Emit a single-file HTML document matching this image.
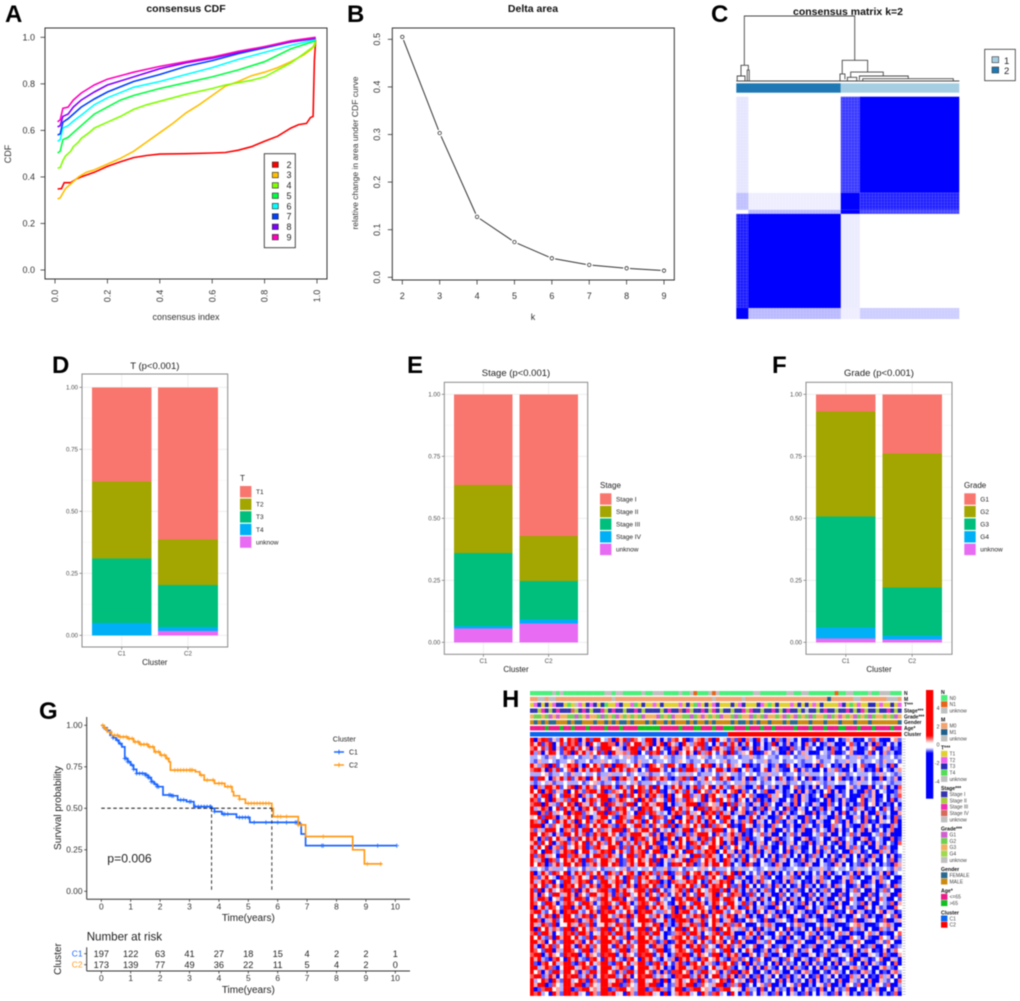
<!DOCTYPE html>
<html lang="en">
<head>
<meta charset="utf-8">
<title>Consensus clustering figure</title>
<style>
html,body{margin:0;padding:0;background:#fff;width:1020px;height:1001px;overflow:hidden}
svg{display:block;filter:blur(0.45px)}
text{font-family:"Liberation Sans",Arial,sans-serif}
.let{font-size:24px;font-weight:700;fill:#000}
.rt{font-size:10.5px;font-weight:700;fill:#111;text-anchor:middle}
.rl{font-size:9px;fill:#333;text-anchor:middle}
.gt{font-size:9.5px;fill:#222;text-anchor:middle}
.gx{font-size:8px;fill:#222;text-anchor:middle}
.sv{font-size:10px;fill:#222;text-anchor:middle}
</style>
</head>
<body>
<svg xmlns="http://www.w3.org/2000/svg" width="1020" height="1001" viewBox="0 0 1020 1001">
<defs>
<pattern id="cm-texture" width="3" height="3" patternUnits="userSpaceOnUse"><rect x="2" width=".7" height="3" fill="#fff" opacity=".16"/><rect y="1" width="3" height=".6" fill="#fff" opacity=".14"/></pattern>
<linearGradient id="scale-gradient" x1="0" y1="0" x2="0" y2="1"><stop offset="0" stop-color="#f00"/><stop offset=".42" stop-color="#f00"/><stop offset=".49" stop-color="#fff"/><stop offset=".53" stop-color="#fff"/><stop offset=".58" stop-color="#00f"/><stop offset="1" stop-color="#00f"/></linearGradient>
</defs>

<text class="let" x="5" y="22">A</text>
<text class="let" x="347" y="22">B</text>
<text class="let" x="711" y="22">C</text>
<text class="let" x="52" y="373">D</text>
<text class="let" x="407" y="373">E</text>
<text class="let" x="772" y="373">F</text>
<text class="let" x="39" y="719">G</text>
<text class="let" x="502" y="707">H</text>

<!-- Panel A -->
<g id="panel-a">
<text class="rt" x="186" y="12">consensus CDF</text>
<text class="rl" x="186" y="320">consensus index</text>
<text class="rl" transform="translate(11,154) rotate(-90)">CDF</text>
<rect x="45" y="28" width="282" height="251" fill="none" stroke="#333" stroke-width="1"/>
</g>

<!-- Panel B -->
<g id="panel-b">
<text class="rt" x="533" y="12">Delta area</text>
<text class="rl" x="533" y="320">k</text>
<text class="rl" style="font-size:8.5px" transform="translate(358,153) rotate(-90)">relative change in area under CDF curve</text>
<rect x="392.3" y="28" width="282" height="252" fill="none" stroke="#333" stroke-width="1"/>
</g>

<!-- Panel C -->
<g id="panel-c">
<text class="rt" x="848" y="15">consensus matrix k=2</text>
<rect x="984.7" y="49.3" width="30.6" height="31.4" fill="#fff" stroke="#333" stroke-width=".8"/>
<rect x="992" y="56.7" width="6.7" height="6" fill="#a6cee3" stroke="#333" stroke-width=".6"/>
<rect x="992" y="67" width="6.7" height="6" fill="#1f78b4" stroke="#333" stroke-width=".6"/>
<text x="1004" y="64" style="font-size:9.5px;fill:#222">1</text>
<text x="1004" y="74" style="font-size:9.5px;fill:#222">2</text>
</g>

<!-- Panels D E F -->
<g id="panel-d">
<text class="gt" x="154.8" y="369">T (p&lt;0.001)</text>
<text class="gx" x="154.8" y="665">Cluster</text>
<text x="240" y="481" style="font-size:8px;fill:#222">T</text>
</g>
<g id="panel-e">
<text class="gt" x="516" y="376">Stage (p&lt;0.001)</text>
<text class="gx" x="516" y="672">Cluster</text>
<text x="600" y="488" style="font-size:8px;fill:#222">Stage</text>
</g>
<g id="panel-f">
<text class="gt" x="879" y="376">Grade (p&lt;0.001)</text>
<text class="gx" x="879" y="672">Cluster</text>
<text x="964" y="488" style="font-size:8px;fill:#222">Grade</text>
</g>

<!-- Panel G -->
<g id="panel-g">
<text class="sv" transform="translate(61,808) rotate(-90)">Survival probability</text>
<text class="sv" x="248.3" y="921">Time(years)</text>
<text x="107.3" y="862.7" style="font-size:12.2px;fill:#222">p=0.006</text>
<text x="332.7" y="741.5" style="font-size:7.3px;fill:#222">Cluster</text>
<text x="86.7" y="940.7" style="font-size:11.6px;fill:#222">Number at risk</text>
<text class="sv" transform="translate(61,959) rotate(-90)">Cluster</text>
<text class="sv" x="248.3" y="993">Time(years)</text>
</g>

<!-- Panel H -->
<g id="panel-h">
<rect x="926" y="690" width="7.3" height="108.7" fill="url(#scale-gradient)"/>
</g>

<script>
/* ---------- Panel A data: consensus CDF ---------- */
const cdfK = ['2','3','4','5','6','7','8','9'];
const cdfColors = ['#ff0000','#ffbf00','#80ff00','#00ff40','#00ffff','#0040ff','#8000ff','#ff00bf'];
const cdfTicks = [0,0.2,0.4,0.6,0.8,1];
const cdfIndex2 = [.01,.025,.035,.06,.08,.1,.15,.2,.25,.3,.35,.4,.5,.6,.65,.7,.75,.8,.85,.9,.93,.96,.975,.985,.99,.995];
const cdfValue2 = [.348,.35,.375,.375,.39,.40,.42,.445,.465,.483,.492,.498,.5,.503,.505,.515,.53,.553,.575,.61,.625,.63,.655,.66,.9,.99];
const cdfIndex3 = [.01,.02,.04,.06,.09,.12,.15,.2,.25,.3,.35,.4,.45,.5,.55,.6,.65,.7,.75,.8,.85,.9,.95,.98,.99,.995];
const cdfValue3 = [.305,.31,.35,.37,.40,.42,.43,.455,.48,.51,.55,.59,.63,.675,.71,.75,.79,.81,.835,.85,.87,.895,.925,.95,.97,.99];
const cdfIndex4 = [.01,.02,.03,.04,.06,.07,.09,.1,.13,.15,.2,.25,.3,.35,.4,.5,.6,.65,.7,.75,.8,.85,.9,.95,.98,.99,.995];
const cdfValue4 = [.438,.44,.47,.49,.51,.53,.55,.565,.59,.61,.635,.66,.69,.71,.725,.755,.78,.795,.805,.815,.83,.86,.89,.93,.955,.96,.985];
const cdfIndex5 = [.01,.02,.03,.05,.07,.1,.15,.2,.25,.3,.35,.4,.5,.6,.7,.8,.9,.995];
const cdfValue5 = [.503,.51,.56,.57,.59,.62,.67,.7,.73,.75,.765,.78,.805,.83,.86,.895,.95,.985];
const cdfIndexHigh = [.01,.02,.03,.05,.07,.1,.15,.2,.3,.4,.5,.6,.7,.8,.9,.995];
const cdfValue6 = [.553,.56,.61,.62,.64,.665,.71,.74,.785,.81,.84,.87,.905,.935,.965,.99];
const cdfValue7 = [.58,.585,.635,.65,.67,.70,.735,.765,.81,.84,.875,.90,.93,.955,.98,.995];
const cdfValue8 = [.615,.62,.66,.67,.70,.73,.765,.795,.83,.865,.89,.91,.935,.96,.98,.997];
const cdfValue9 = [.637,.645,.695,.70,.73,.76,.795,.82,.85,.875,.895,.915,.94,.96,.985,1];

/* ---------- Panel B data: delta area ---------- */
const deltaK = [2,3,4,5,6,7,8,9];
const deltaValues = [.505,.303,.127,.074,.040,.026,.019,.014];
const deltaTicks = [0,.1,.2,.3,.4,.5];

/* ---------- Panel C data: consensus matrix ---------- */
const cmColSizes = [12,92,19,99];
const cmRowSizes = [96,17,4,94,11];
const cmValues = [
  [.1,0,.78,1],
  [.25,.07,1,.88],
  [0,.28,1,.75],
  [.9,1,.08,0],
  [1,.28,.07,.2]
];
const cmClusterSizes = [104,118];
/* each merge: left leaf, right leaf, merge height, left child height, right child height */
const dendroMerges = [
  [.036,.531,1,.241,.318],
  [.021,.054,.241,.077,.169],
  [.004,.039,.077,0,0],
  [.049,.058,.169,0,0],
  [.475,.589,.318,.108,.138],
  [.465,.487,.108,0,.026],
  [.513,.659,.138,.056,.077],
  [.498,.540,.056,0,0],
  [.552,.771,.077,.015,.036],
  [.567,.973,.036,0,0]
];

/* ---------- Panels D/E/F data ---------- */
const barClusters = ['C1','C2'];
const barTicks = [0,.25,.5,.75,1];
const barTickLabels = ['0.00','0.25','0.50','0.75','1.00'];
const barColors = ['#f8766d','#a3a500','#00bf7d','#00b0f6','#e76bf3'];
const tLevels = ['T1','T2','T3','T4','unknow'];
const tValuesC1 = [.38,.31,.26,.05,0];
const tValuesC2 = [.613,.184,.169,.017,.017];
const stageLevels = ['Stage I','Stage II','Stage III','Stage IV','unknow'];
const stageValuesC1 = [.365,.275,.295,.01,.055];
const stageValuesC2 = [.572,.18,.156,.017,.075];
const gradeLevels = ['G1','G2','G3','G4','unknow'];
const gradeValuesC1 = [.07,.423,.447,.045,.015];
const gradeValuesC2 = [.238,.542,.192,.016,.012];

/* ---------- Panel G data: survival ---------- */
const survTicksX = [0,1,2,3,4,5,6,7,8,9,10];
const survTicksY = [0,.25,.5,.75,1];
const survTickLabels = ['0.00','0.25','0.50','0.75','1.00'];
const survTimeC1 = [0,.1,.2,.3,.4,.5,.6,.7,.8,.9,1,1.1,1.2,1.5,1.6,1.7,1.8,1.9,2.1,2.4,2.6,2.9,3.15,3.75,3.85,4.1,4.6,5.05,6.75,6.8,6.95,10.05];
const survProbC1 = [1,.985,.97,.94,.925,.91,.89,.87,.80,.78,.76,.735,.71,.70,.685,.66,.645,.63,.58,.575,.55,.54,.51,.50,.48,.465,.445,.415,.405,.345,.275,.275];
const survTimeC2 = [0,.1,.2,.35,.6,.9,1.1,1.3,1.6,1.8,2.0,2.2,2.3,2.35,3.2,3.35,3.5,3.85,4.2,4.45,4.5,4.7,4.9,5.8,5.85,6.7,6.95,8.55,8.95,9.55];
const survProbC2 = [1,.98,.96,.94,.93,.92,.90,.885,.87,.84,.82,.80,.78,.73,.72,.70,.67,.65,.63,.60,.575,.555,.53,.50,.45,.40,.33,.25,.165,.165];
const censorC1 = [.1,.2,.4,.55,.65,.8,.85,.9,.95,1.05,1.1,1.2,1.3,1.4,1.5,1.55,1.6,1.65,1.7,1.75,1.85,1.9,1.95,2.3,2.35,2.4,2.45,2.7,2.8,3,3.05,3.2,3.3,3.4,3.5,3.6,3.7,3.72,3.85,4.15,4.2,4.3,4.7,4.8,4.9,5,5.2,5.6,6,6.3,6.6,6.65,6.7,7.5,7.55,9.4,10.05];
const censorC2 = [.05,.15,.3,.45,.55,.65,.75,.85,.95,1.05,1.15,1.25,1.35,1.45,1.55,1.65,1.75,1.85,1.95,2.05,2.15,2.25,2.5,2.6,2.7,2.8,2.9,3,3.05,3.1,3.4,3.6,3.8,4,4.1,4.3,4.4,4.7,5,5.1,5.2,5.3,5.4,5.5,5.6,5.7,5.8,6,6.1,6.3,6.7,6.8,7.55,9.05,9.5];
const medianTimes = [3.75,5.8];
const medianLevel = 0.5;
const riskC1 = [197,122,63,41,27,18,15,4,2,2,1];
const riskC2 = [173,139,77,49,36,22,11,5,4,2,0];

/* ---------- Panel H data: heatmap (digit 0..8 = low..high expression) ---------- */
const heatRows = [
"7058614283756048176325084716532870415267380145726083415270631842507316425013827402513640215374201563",
"6471580362857140632785504163872560481753084256713041826503741250381426035174250364120573142607315240",
"5836270417582635041876342058716403852167045382610574218360251740356120734163502417305264013572046132",
"8250476315607482536170844526703185624071538406257314608235471026534017253640125437013562104725063412",
"3343253432334233523432334353233423345323342334532433233423353234332433423353423324334233532334233423",
"3253343233452334233534323343253342334323543233423343523343324335233423343233452334233533423343253342",
"7425806134758206364175086523741085362874105623857041362540713254036127514302617450326140573206341725",
"5684072613580472658130748265403176852403716852041367205814630257146320571634205164730251460327153046",
"3334523343253343342335333423433523343234335342333423543323434233533423342353334233435234333423534323",
"8167305482614750836241705842630175486203571604283517460325071436251740362517034261570324163502714360",
"3234352334333423453233423343523334233435233432353433234335233423343352334233453233433423533423343233",
"6052784613570826413758206417385260741385620471536048217563104725361402573140625374102563401725360417",
"7380561427038415672801543726085174620538417206351482035716240537126403517263041572603514207361542036",
"4726805318746052138674250816374058261705386142705634281057463012746503172640351720463512074361250437",
"8513607425186304752680147532608471352806417532804617352064152703164025371640235170426301572460351724",
"5670842163750842613708524176035824671503248670153426081735206417352064172530641273506241370562413052",
"7248503617482056371480265731408562370184625307816452037146250371642507316425037164025317460325174063",
"6805172436058714326807514623086175234068517243065817240356127403516274035612704351627043516207435126",
"4371865024736518024673108524761308562471035826147305682401375264013752640173526401735206417352604173",
"8526031748250637148520367418250736142805637148205631740526371640527316405273164025731604527130645271",
"7680415326748015362784105632871405368270145362807154360217450361274503612745036127450631274506312740",
"5142786305417268035142687053146827053416287053142687035417206351472063514720635417260351472603514720",
"6837520416837250164783520146873250416873205146873052147360215473602514736021547360251473602154736021",
"8405163742051637482056314720856137402851637420581637245062713450267134502671345026713540267135402713",
"4718360257148360527418360252714836025714830652714836026053172460531724605317246053172640531726405317",
"7263804516237480156237840516273804512673840156237840513742051637420516374205163742501637425016374205",
"5830672147580367214758036217458036721458306721475803624160352714603527146035271460352174603521746035",
"8157243068157420368517420368157240368517243068157420361526037415260374152603741526307415263074152603",
"6428075137462807513764280157364280715364280751364820752037146250371462503714625037146205371462053714",
"7395014826739501482673950148276395014287639501482763950431762054317620543176205431762504317625043176",
"3343253334233425334233343523343342335233423343534233342353343234335323343342335323433423533423343253",
"8026417538026471538206417358206471538026417358206471536170425361704253617042536170452361704523617045",
"7514832065714832605714382065174832065714380265714832067325106473251064732510647325016473250164732501",
"6248570317624857031762485073162485703176248573016248570450316274503162745031627450136274501362745013",
"5738126408573812640587381264085738126048573812604857381261740523617405236174052361745023617450236174",
"8160472356816047235681064723568160742356816047325681604730526147305261473052614735026147350261473502",
"7405318624740531862474051862374053186247405318624705318660273514602735146027351460273154602731546027",
"6287503417628750341762875034176287053417628750314762875415036274150362741503627410536274105362741053",
"8531764025853176402585316740258531764205853176402853176437261504372615043726150437261054372610543726",
"7046285317704628531770462853177046285371704628531704628512750463127504631275046312750634127506341275",
"5872136407587213640758721364075872136470587213640587213664031752640317526403175264031572640315726403",
"8314650728831465072883146507288314650278831465072831465053714026537140265371402653714206537142065371",
"6750248137675024813767502481376750248317675024813750248120465317204653172046531720465137204651372046",
"7428516033742851603374285160337428516303742851603742851674102536741025367410253674102356741023567410",
"8063725418806372541880637254188063725148806372541806372536250714362507143625071436250174362501743625",
"5716840326571684032657168403265716840236571684032571684001574263015742630157426301574623015746230157",
"7382150647738215064773821506477382150467738215064738215042631705426317054263170542631075426310754263",
"6845037216684503721668450372166845037126684503721845037275102643751026437510264375102463751024637510",
"8207461538820746153882074615388207461358820746153207461560347125603471256034712560347215603472156034",
"7531680426753168042675316804267531680246753168042531680414752036147520361475203614752306147523061475",
"5860274317586027431758602743175860274137586027431860274731065247310652473106524731065427310654273106",
"8472105630847210563084721056308472105360847210563472105626403751264037512640375126403571264035712640",
"6105738246610573824661057382466105738426610573824105738250716342507163425071634250716432507164325071",
"7624851036762485103676248510367624851306762485103624851043152607431526074315260743152067431520674315",
"8350416727835041672783504167278350416277835041672350416716742053167420531674205316742503167425031674",
"5781264037578126403757812640375781264307578126403781264062503714625037146250371462503174625031746250",
"7236508416723650841672365084167236508146723650841236508435071624350716243507162435071264350712643507",
"6478015326647801532664780153266478015236647801532478015371240563712405637124056371240653712406537124",
"8015763428801576342880157634288015763248801576342015763450634172506341725063417250634712506347125063",
"7562308416756230841675623084167562308146756230841562308413725064137250641372506413725604137256041372"
];
/* estimated mean expression shift per block of five samples, left to right */
const heatColumnShift = [1,1.1,1.2,1.4,1.4,1.2,1.4,-.4,1.2,1.2,1.1,-.2,-.8,-1,-1.2,-1.2,-1.2,-1,-1.2,-1];
/* strength of that shift per gene row; muted bands at the top carry none */
const heatRowStrength = [.7,.7,.7,.7,0,0,.8,.8,0,.8,0,.9,.9,.9,.9,.9,.9,.9,.9,.9,1,1,1,1,1,1,1,1,1,1,0,1,1,1,1,1,1,1,1,1,1,1,1,1,1,1,1,1,1,1,1,1,1,1,1,1,1,1,1,1];
const geneLabelCount = 96;
const scaleLabels = ['4','2','0','-2','-4'];
const scaleValues = [4,2,0,-2,-4];

/* annotation tracks: digit indexes each track's level */
const trackNames = ['N','M','T***','Stage***','Grade***','Gender','Age*'];
const trackN = "0000002020000000000022022000002002220000200210002120000000002200000002200220000000100220000200222000";
const trackM = "0022022000000000000000200000000000000000000000000200000002000000000000000000000010000002200000002220";
const trackT = "0120201220304102120230012001302001020000102031020120002012000210302000102020102000012030100220100201";
const trackS = "0012010200031020100210200100201000010200302100201201001002120010020102001040010200100201021001002010";
const trackG = "2112102022110120221012102121210222012102211012021210221012201210221201201210122101202120121012212102";
const trackSex = "1010100111010011101101010010111010110101110101101011110100101011011101001110111011101110111011111110";
const trackAge = "0000100010010001000010001000011111100000100011000100111000100010010000010001000100011000100010000100";
const trackColorsN = ['#4bef7b','#e8641a','#c0c0c0'];
const trackColorsM = ['#f4a26f','#1f5f8b','#c0c0c0'];
const trackColorsT = ['#e0d030','#f060f0','#2a2ab8','#55dd55','#c0c0c0'];
const trackColorsS = ['#3535b0','#a8cc40','#f030b0','#d86a5a','#c0c0c0'];
const trackColorsG = ['#d060d0','#70d050','#f4b060','#a0d850','#c0c0c0'];
const trackColorsSex = ['#2a6a90','#cc8a10'];
const trackColorsAge = ['#ee1a88','#10c020'];
const clusterCounts = [197,173];
const clusterColors = ['#0a66f0','#ff0000'];
const legendGroups = [
  ['N',['N0','N1','unknow'],trackColorsN],
  ['M',['M0','M1','unknow'],trackColorsM],
  ['T***',['T1','T2','T3','T4','unknow'],trackColorsT],
  ['Stage***',['Stage I','Stage II','Stage III','Stage IV','unknow'],trackColorsS],
  ['Grade***',['G1','G2','G3','G4','unknow'],trackColorsG],
  ['Gender',['FEMALE','MALE'],trackColorsSex],
  ['Age*',['<=65','>65'],trackColorsAge],
  ['Cluster',['C1','C2'],clusterColors]
];

/* ---------- helpers ---------- */
const NS = 'http://www.w3.org/2000/svg';
function add(parent, tag, attrs, text) {
  const e = document.createElementNS(NS, tag);
  for (const k in attrs) e.setAttribute(k, attrs[k]);
  if (text !== undefined) e.textContent = text;
  parent.appendChild(e);
  return e;
}
function linear(d0, d1, r0, r1) { return v => r0 + (v - d0) * (r1 - r0) / (d1 - d0); }
function addText(parent, x, cy, str, size, anchor, fill, rot, name) {
  const a = { x: x, y: cy + size * 0.35, 'font-size': size, 'text-anchor': anchor, fill: fill };
  if (rot) { a.transform = 'rotate(' + rot + ' ' + x + ' ' + cy + ')'; }
  const t = add(parent, 'text', a, str);
  
  
  return t;
}
function addLine(parent, x1, y1, x2, y2, stroke, w, name, dash) {
  const a = { x1: x1, y1: y1, x2: x2, y2: y2, stroke: stroke, 'stroke-width': w };
  if (dash) a['stroke-dasharray'] = dash;
  const l = add(parent, 'line', a);
  
  
  return l;
}
function addRect(parent, x, y, w, h, fill, name) {
  const r = add(parent, 'rect', { x: x, y: y, width: w, height: h, fill: fill });
  
  
  return r;
}

/* ---------- Panel A ---------- */
(function () {
  const g = document.getElementById('panel-a');
  const x = linear(0, 1, 55, 317), y = linear(0, 1, 270, 37.3);
  cdfTicks.forEach(t => {
    addLine(g, x(t), 279, x(t), 283.5, '#333', .8, 'cdf-x-tick');
    addLine(g, 45, y(t), 40.5, y(t), '#333', .8, 'cdf-y-tick');
    addText(g, x(t), 296, t.toFixed(1), 9, 'middle', '#333', -90, 'cdf-x-tick-label');
    addText(g, 35, y(t), t.toFixed(1), 9, 'end', '#333', 0, 'cdf-y-tick-label');
  });
  const idx = [cdfIndex2, cdfIndex3, cdfIndex4, cdfIndex5, cdfIndexHigh, cdfIndexHigh, cdfIndexHigh, cdfIndexHigh];
  const val = [cdfValue2, cdfValue3, cdfValue4, cdfValue5, cdfValue6, cdfValue7, cdfValue8, cdfValue9];
  val.forEach((vs, s) => {
    const pts = vs.map((v, i) => x(idx[s][i]).toFixed(1) + ',' + y(v).toFixed(1)).join(' ');
    const p = add(g, 'polyline', { points: pts, fill: 'none', stroke: cdfColors[s], 'stroke-width': 1.6 });
    
    
  });
  const box = add(g, 'rect', { x: 264.3, y: 153.7, width: 31, height: 94, fill: '#fff', stroke: '#333', 'stroke-width': .9 });
  
  
  cdfK.forEach((k, i) => {
    const cy = 164.7 + i * 10.35;
    const sw = add(g, 'rect', { x: 272.3, y: cy - 2.7, width: 6, height: 5.4, fill: cdfColors[i], stroke: '#222', 'stroke-width': .6 });
    
    
    addText(g, 286.5, cy, k, 9, 'start', '#222', 0, 'cdf-legend-label');
  });
})();

/* ---------- Panel B ---------- */
(function () {
  const g = document.getElementById('panel-b');
  const x = linear(2, 9, 402.3, 664), y = linear(0, .5, 277.3, 39.3);
  deltaK.forEach(k => {
    addLine(g, x(k), 280, x(k), 284.5, '#333', .8, 'delta-x-tick');
    addText(g, x(k), 295.7, String(k), 9, 'middle', '#333', 0, 'delta-x-tick-label');
  });
  deltaTicks.forEach(t => {
    addLine(g, 392.3, y(t), 387.8, y(t), '#333', .8, 'delta-y-tick');
    addText(g, 376.7, y(t), t.toFixed(1), 9, 'middle', '#333', -90, 'delta-y-tick-label');
  });
  deltaValues.forEach((v, i) => {
    if (i < deltaValues.length - 1) {
      const x0 = x(deltaK[i]), y0 = y(v), x1 = x(deltaK[i + 1]), y1 = y(deltaValues[i + 1]);
      const d = Math.hypot(x1 - x0, y1 - y0), ux = (x1 - x0) / d, uy = (y1 - y0) / d;
      addLine(g, x0 + ux * 3.4, y0 + uy * 3.4, x1 - ux * 3.4, y1 - uy * 3.4, '#333', 1, 'delta-line-segment');
    }
    const c = add(g, 'circle', { cx: x(deltaK[i]), cy: y(v), r: 1.7, fill: 'none', stroke: '#333', 'stroke-width': .8 });
    
    
  });
})();

/* ---------- Panel C ---------- */
(function () {
  const g = document.getElementById('panel-c');
  const L = 736.3, R = 959.3;
  const dx = linear(0, 1, L, R), dy = linear(0, 1, 81, 16);
  addLine(g, L, 81, R, 81, '#444', 1, 'dendrogram-baseline');
  dendroMerges.forEach(m => {
    const pts = dx(m[0]) + ',' + dy(m[3]) + ' ' + dx(m[0]) + ',' + dy(m[2]) + ' ' + dx(m[1]) + ',' + dy(m[2]) + ' ' + dx(m[1]) + ',' + dy(m[4]);
    const p = add(g, 'polyline', { points: pts, fill: 'none', stroke: '#444', 'stroke-width': .9 });
    
    
  });
  const total = cmClusterSizes[0] + cmClusterSizes[1];
  const split = L + (R - L) * cmClusterSizes[0] / total;
  addRect(g, L, 83.3, split - L, 9.4, '#1f78b4', 'cluster-bar-2');
  addRect(g, split, 83.3, R - split, 9.4, '#a6cee3', 'cluster-bar-1');
  const colTotal = cmColSizes.reduce((a, b) => a + b, 0);
  const rowTotal = cmRowSizes.reduce((a, b) => a + b, 0);
  const mx = linear(0, colTotal, L, R), my = linear(0, rowTotal, 96.7, 319);
  let ry = 0;
  cmValues.forEach((row, r) => {
    let cx = 0;
    row.forEach((v, c) => {
      const x0 = mx(cx), w = mx(cx + cmColSizes[c]) - x0, y0 = my(ry), h = my(ry + cmRowSizes[r]) - y0;
      const cell = add(g, 'rect', { x: x0, y: y0, width: w, height: h, fill: '#0000ff', 'fill-opacity': v });
      
      
      if (v > 0.02 && v < 0.95) {
        const tex = add(g, 'rect', { x: x0, y: y0, width: w, height: h, fill: 'url(#cm-texture)' });
        
        
      }
      cx += cmColSizes[c];
    });
    ry += cmRowSizes[r];
  });
})();

/* ---------- Panels D/E/F ---------- */
function stackedBars(id, levels, c1, c2, box, key) {
  const g = document.getElementById(id);
  const y = linear(0, 1, box.y0, box.y1);
  const unit = (box.r - box.l) / 2.2;
  const x = i => box.l + (0.6 + i) * unit;
  addRect(g, box.l, box.t, box.r - box.l, box.b - box.t, '#fff', key + '-panel-background');
  barTicks.forEach((t, i) => {
    addLine(g, box.l, y(t), box.r, y(t), '#ebebeb', .8, key + '-major-gridline');
    if (i < barTicks.length - 1) addLine(g, box.l, y(t + .125), box.r, y(t + .125), '#f2f2f2', .5, key + '-minor-gridline');
    addLine(g, box.l - 2.5, y(t), box.l, y(t), '#555', .6, key + '-y-tick');
    addText(g, box.l - 4, y(t), barTickLabels[i], 6.2, 'end', '#4d4d4d', 0, key + '-y-tick-label');
  });
  [c1, c2].forEach((vals, i) => {
    addLine(g, x(i), box.t, x(i), box.b, '#ebebeb', .8, key + '-vertical-gridline');
    addLine(g, x(i), box.b, x(i), box.b + 2.5, '#555', .6, key + '-x-tick');
    addText(g, x(i), box.b + 6.5, barClusters[i], 6.2, 'middle', '#4d4d4d', 0, key + '-x-tick-label');
    let top = 1;
    vals.forEach((v, s) => {
      if (v > 0) {
        const r = addRect(g, x(i) - .45 * unit, y(top), .9 * unit, y(top - v) - y(top), barColors[s], key + '-bar-segment');
        r.setAttribute('shape-rendering', 'crispEdges');
      }
      top -= v;
    });
  });
  const fr = add(g, 'rect', { x: box.l, y: box.t, width: box.r - box.l, height: box.b - box.t, fill: 'none', stroke: '#8a8a8a', 'stroke-width': 1 });
  
  
  levels.forEach((lv, i) => {
    const yy = box.legY + i * 12.6;
    addRect(g, box.legX, yy, 11.4, 11.4, barColors[i], key + '-legend-swatch');
    addText(g, box.legX + 16, yy + 5.7, lv, 6.5, 'start', '#222', 0, key + '-legend-label');
  });
  g.querySelectorAll('text[class]').forEach(t => g.appendChild(t));
}
stackedBars('panel-d', tLevels, tValuesC1, tValuesC2, { l: 82, r: 227.7, t: 374, b: 647, y0: 635.3, y1: 387.3, legX: 240, legY: 486 }, 't');
stackedBars('panel-e', stageLevels, stageValuesC1, stageValuesC2, { l: 444.3, r: 587.7, t: 382.3, b: 654.3, y0: 642.3, y1: 394.3, legX: 600, legY: 493.3 }, 'stage');
stackedBars('panel-f', gradeLevels, gradeValuesC1, gradeValuesC2, { l: 806, r: 952, t: 382.3, b: 654.3, y0: 642.3, y1: 394.3, legX: 964.3, legY: 493.3 }, 'grade');

/* ---------- Panel G ---------- */
(function () {
  const g = document.getElementById('panel-g');
  const x = linear(0, 10, 101.3, 395.3), y = linear(0, 1, 891.3, 725.3);
  const AX = 86.7, AY = 899.3, blue = '#1a66ff', orange = '#ff9a1a';
  addLine(g, AX, 717, AX, AY, '#333', 1, 'survival-y-axis-line');
  addLine(g, AX, AY, 410, AY, '#333', 1, 'survival-x-axis-line');
  survTicksY.forEach((t, i) => {
    addLine(g, AX - 2.5, y(t), AX, y(t), '#333', .8, 'survival-y-tick');
    addText(g, 82.5, y(t), survTickLabels[i], 8.4, 'end', '#333', 0, 'survival-y-tick-label');
  });
  survTicksX.forEach(t => {
    addLine(g, x(t), AY, x(t), AY + 2.5, '#333', .8, 'survival-x-tick');
    addText(g, x(t), 906.7, String(t), 8.4, 'middle', '#333', 0, 'survival-x-tick-label');
  });
  function stepAt(ts, ps, t) { let s = ps[0]; ts.forEach((v, i) => { if (v <= t) s = ps[i]; }); return s; }
  function drawCurve(ts, ps, cs, col, key) {
    let d = 'M' + x(ts[0]) + ' ' + y(ps[0]);
    for (let i = 1; i < ts.length; i++) d += 'H' + x(ts[i]).toFixed(1) + 'V' + y(ps[i]).toFixed(1);
    const p = add(g, 'path', { d: d, fill: 'none', stroke: col, 'stroke-width': 1.7 });
    
    
    cs.forEach(t => {
      const xx = x(t), yy = y(stepAt(ts, ps, t));
      const m = add(g, 'path', { d: 'M' + (xx - 2.2) + ' ' + yy + 'H' + (xx + 2.2) + 'M' + xx + ' ' + (yy - 2.2) + 'V' + (yy + 2.2), stroke: col, 'stroke-width': 1, opacity: .75, fill: 'none' });
      
      
    });
  }
  drawCurve(survTimeC1, survProbC1, censorC1, blue, 'c1');
  drawCurve(survTimeC2, survProbC2, censorC2, orange, 'c2');
  addLine(g, x(0), y(medianLevel), x(medianTimes[1]), y(medianLevel), '#111', 1, 'median-horizontal-line', '3.5,2.5');
  medianTimes.forEach(t => addLine(g, x(t), y(medianLevel), x(t), y(0), '#333', 1, 'median-vertical-line', '3.5,2.5'));
  [['C1', blue, 752], ['C2', orange, 765]].forEach(e => {
    addLine(g, 334, e[2], 344, e[2], e[1], 1.5, 'survival-legend-line');
    addLine(g, 339, e[2] - 2.2, 339, e[2] + 2.2, e[1], 1, 'survival-legend-mark');
    addText(g, 349, e[2], e[0], 7, 'start', '#222', 0, 'survival-legend-label');
  });
  /* risk table */
  addLine(g, AX, 947.3, AX, 971, '#333', 1, 'risk-y-axis-line');
  addLine(g, AX, 971, 410, 971, '#333', 1, 'risk-x-axis-line');
  [['C1', blue, 953.7, riskC1], ['C2', orange, 964.7, riskC2]].forEach(r => {
    addLine(g, AX - 2.5, r[2], AX, r[2], '#333', .8, 'risk-y-tick');
    addText(g, 82.5, r[2], r[0], 8.4, 'end', r[1], 0, 'risk-row-label');
    r[3].forEach((v, i) => addText(g, x(survTicksX[i]), r[2], String(v), 9.2, 'middle', '#222', 0, 'risk-count'));
  });
  survTicksX.forEach(t => {
    addLine(g, x(t), 971, x(t), 973.5, '#333', .8, 'risk-x-tick');
    addText(g, x(t), 978.3, String(t), 8.4, 'middle', '#333', 0, 'risk-x-tick-label');
  });
})();

/* ---------- Panel H ---------- */
(function () {
  const g = document.getElementById('panel-h');
  const L = 530, R = 901.5, T = 737.7, B = 995.7;
  const rowY = linear(0, heatRows.length, T, B);
  function heatColor(z) {
    const t = Math.min(1, Math.abs(z) / 3), c = Math.round(255 * (1 - t));
    return z >= 0 ? 'rgb(255,' + c + ',' + c + ')' : 'rgb(' + c + ',' + c + ',255)';
  }
  const frag = document.createDocumentFragment();
  heatRows.forEach((row, r) => {
    const colX = linear(0, row.length, L, R);
    for (let c = 0; c < row.length; c++) {
      const block = Math.min(heatColumnShift.length - 1, Math.floor(c / row.length * heatColumnShift.length));
      const z = +row[c] - 4 + heatColumnShift[block] * heatRowStrength[r];
      const cell = add(frag, 'rect', { x: colX(c).toFixed(2), y: rowY(r).toFixed(2), width: (colX(1) - colX(0) + .2).toFixed(2), height: (rowY(1) - rowY(0) + .2).toFixed(2), fill: heatColor(z) });
      
      
    }
  });
  g.appendChild(frag);
  const geneY = linear(0, geneLabelCount, T, B);
  for (let i = 0; i < geneLabelCount; i++) addLine(g, 902.5, geneY(i + .5), 905.5, geneY(i + .5), '#b5b5b5', .7, 'heatmap-gene-label-mark');

  const tracks = [[trackN, trackColorsN], [trackM, trackColorsM], [trackT, trackColorsT], [trackS, trackColorsS], [trackG, trackColorsG], [trackSex, trackColorsSex], [trackAge, trackColorsAge]];
  const trackTops = linear(0, 6, 691, 726);
  tracks.forEach((tr, i) => {
    const tx = linear(0, tr[0].length, L, R);
    for (let c = 0; c < tr[0].length; c++) {
      addRect(g, tx(c), trackTops(i), tx(1) - tx(0) + .2, 4.4, tr[1][+tr[0][c]], 'annotation-track-cell');
    }
    const lb = addText(g, 904, trackTops(i) + 2.2, trackNames[i], 5, 'start', '#111', 0, 'annotation-track-label');
    lb.setAttribute('font-weight', '700');
  });
  const cx = linear(0, clusterCounts[0] + clusterCounts[1], L, R);
  addRect(g, cx(0), 732, cx(clusterCounts[0]) - cx(0), 4.5, clusterColors[0], 'cluster-track-c1');
  addRect(g, cx(clusterCounts[0]), 732, cx(clusterCounts[0] + clusterCounts[1]) - cx(clusterCounts[0]), 4.5, clusterColors[1], 'cluster-track-c2');
  const cl = addText(g, 904, 734.2, 'Cluster', 5, 'start', '#111', 0, 'annotation-track-label');
  cl.setAttribute('font-weight', '700');

  const sy = linear(4, -4, 708, 781.5);
  scaleValues.forEach((v, i) => addText(g, 939.5, sy(v), scaleLabels[i], 5.5, 'end', '#444', 0, 'color-scale-label'));

  let yy = 692;
  const titleGaps = [0, 6, 6, 6, 6, 6, 6, 6];
  legendGroups.forEach((grp, gi) => {
    yy += titleGaps[gi];
    const tt = addText(g, 941, yy, grp[0], 5.2, 'start', '#111', 0, 'heatmap-legend-title');
    tt.setAttribute('font-weight', '700');
    yy += 3;
    grp[1].forEach((lv, i) => {
      addRect(g, 941, yy, 6.4, 5.9, grp[2][i], 'heatmap-legend-swatch');
      addText(g, 949.5, yy + 3, lv, 5, 'start', '#444', 0, 'heatmap-legend-label');
      yy += 6.3;
    });
  });
})();
</script>
</svg>
</body>
</html>
